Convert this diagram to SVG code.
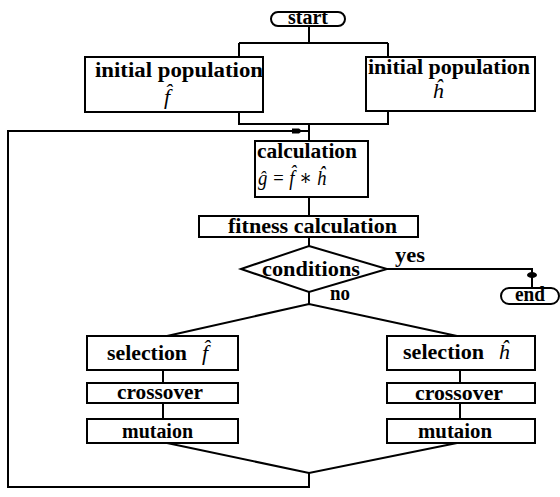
<svg xmlns="http://www.w3.org/2000/svg" width="560" height="497" viewBox="0 0 560 497">
<style>
.box{fill:#fff;stroke:#000;stroke-width:2}
.ln{fill:none;stroke:#000;stroke-width:2}
.t{font-family:"Liberation Serif","DejaVu Serif",serif;font-weight:bold;font-size:20px;fill:#000}
.m{font-family:"Liberation Serif","DejaVu Serif",serif;font-style:italic;font-size:22px;fill:#000}
.c{text-anchor:middle}
</style>
<defs>
<marker id="sq" markerWidth="12" markerHeight="8" refX="10" refY="4" orient="auto" markerUnits="userSpaceOnUse">
<path d="M0,1.5 H7 L10,4 L7,6.5 H0 Z" fill="#000"/>
</marker>
<marker id="dot" markerWidth="8" markerHeight="12" refX="4" refY="6" orient="auto" markerUnits="userSpaceOnUse">
<ellipse cx="4" cy="6" rx="3" ry="5" fill="#000"/>
</marker>
</defs>
<g id="connectors">
<path class="ln" d="M309,25 V43 M239,43 H388 M239,43 V57 M388,43 V57"/>
<path class="ln" d="M239,111 V124 H388 V111 M309,124 V141"/>
<path class="ln" d="M309,197 V216 M309,237 V246"/>
<path class="ln" d="M309,292 V304 M167,336 L309,304 L457,336"/>
<path class="ln" d="M163,370 V383 M163,403 V419 M460,370 V383 M460,403 V419"/>
<path class="ln" d="M167,443 L309,473 L457,443"/>
<path class="ln" d="M309,473 V487 H8 V131 H302" marker-end="url(#sq)"/>
<path class="ln" d="M300,131 H309"/>
<path class="ln" d="M387,269 H532 V275" marker-end="url(#dot)"/>
<path class="ln" d="M532,276 V288"/>
<text class="t" x="395" y="262" textLength="30" lengthAdjust="spacingAndGlyphs">yes</text>
<text class="t" x="330" y="300" textLength="20" lengthAdjust="spacingAndGlyphs">no</text>
</g>
<g id="start">
<rect class="box" x="271" y="12" width="74" height="14" rx="7"/>
<text class="t c" x="308" y="24" textLength="40" lengthAdjust="spacingAndGlyphs">start</text>
</g>
<g id="init-f">
<rect class="box" x="85" y="57" width="178" height="55"/>
<text class="t" x="95" y="77" textLength="168" lengthAdjust="spacingAndGlyphs">initial population</text>
<text class="m c" x="167" y="104">f̂</text>
</g>
<g id="init-h">
<rect class="box" x="366" y="57" width="169" height="54"/>
<text class="t" x="368" y="74" textLength="162" lengthAdjust="spacingAndGlyphs">initial population</text>
<text class="m c" x="438" y="98">ĥ</text>
</g>
<g id="calculation">
<rect class="box" x="255" y="141" width="113" height="56"/>
<text class="t" x="257" y="158" textLength="100" lengthAdjust="spacingAndGlyphs">calculation</text>
<text class="m" x="258" y="185" textLength="68" lengthAdjust="spacingAndGlyphs">ĝ = f̂ ∗ ĥ</text>
</g>
<g id="fitness">
<rect class="box" x="199" y="216" width="219" height="21"/>
<text class="t" x="228" y="233" textLength="169" lengthAdjust="spacingAndGlyphs">fitness calculation</text>
</g>
<g id="conditions">
<path class="box" d="M309,246 L387,269 L309,292 L241,269 Z"/>
<text class="t" x="262" y="276" textLength="98" lengthAdjust="spacingAndGlyphs">conditions</text>
</g>
<g id="end">
<rect class="box" x="501" y="288" width="58" height="16" rx="8"/>
<text class="t c" x="530" y="301" textLength="30" lengthAdjust="spacingAndGlyphs">end</text>
</g>
<g id="selection-f">
<rect class="box" x="87" y="336" width="151" height="34"/>
<text class="t" x="107" y="360" textLength="80" lengthAdjust="spacingAndGlyphs">selection</text>
<text class="m c" x="205" y="360">f̂</text>
</g>
<g id="crossover-f">
<rect class="box" x="87" y="383" width="151" height="20"/>
<text class="t" x="117" y="399" textLength="86" lengthAdjust="spacingAndGlyphs">crossover</text>
</g>
<g id="mutation-f">
<rect class="box" x="87" y="419" width="151" height="24"/>
<text class="t" x="122" y="438" textLength="71" lengthAdjust="spacingAndGlyphs">mutaion</text>
</g>
<g id="selection-h">
<rect class="box" x="387" y="336" width="148" height="34"/>
<text class="t" x="403" y="359" textLength="81" lengthAdjust="spacingAndGlyphs">selection</text>
<text class="m c" x="504" y="359">ĥ</text>
</g>
<g id="crossover-h">
<rect class="box" x="387" y="383" width="148" height="20"/>
<text class="t" x="415" y="400" textLength="88" lengthAdjust="spacingAndGlyphs">crossover</text>
</g>
<g id="mutation-h">
<rect class="box" x="387" y="419" width="148" height="24"/>
<text class="t" x="418" y="438" textLength="74" lengthAdjust="spacingAndGlyphs">mutaion</text>
</g>
</svg>
